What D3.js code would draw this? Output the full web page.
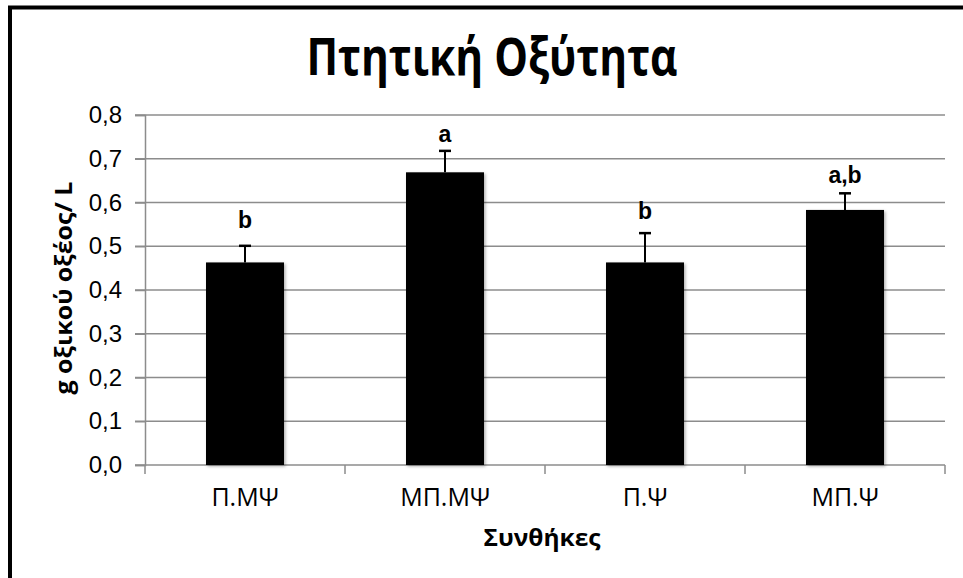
<!DOCTYPE html>
<html>
<head>
<meta charset="utf-8">
<script src="https://cdn.jsdelivr.net/npm/d3@7"></script>
<style>
  body { margin: 0; background: #fff; }
  text { font-family: "Liberation Sans", Arial, sans-serif; }
  .os { font-family: "Open Sans", "Noto Sans", sans-serif; }
</style>
</head>
<body>
<div class="container"></div>
<script>
// Frame
const width = 963;
const height = 578;
const margin = { top: 115, right: 18, bottom: 113, left: 145 };

// Data
const categories = ['Π.ΜΨ', 'ΜΠ.ΜΨ', 'Π.Ψ', 'ΜΠ.Ψ'];
const means = [0.463, 0.669, 0.463, 0.583];
const errors = [0.038, 0.049, 0.067, 0.038];
const letters = ['b', 'a', 'b', 'a,b'];
// height of the letter baseline, in axis units
const letterLevels = [0.542, 0.738, 0.562, 0.645];
const yTicks = [0, 0.1, 0.2, 0.3, 0.4, 0.5, 0.6, 0.7, 0.8];

const title = 'Πτητική Οξύτητα';
const xTitle = 'Συνθήκες';
const yTitle = 'g οξικού οξέος/ L';

const fmt = d => d.toFixed(1).replace('.', ',');

function draw() {
  const svg = d3.select('.container')
    .append('svg')
    .attr('width', width)
    .attr('height', height);

  const defs = svg.append('defs');
  defs.append('filter')
    .attr('id', 'shadow')
    .attr('x', '-20%').attr('y', '-20%')
    .attr('width', '140%').attr('height', '140%')
    .append('feDropShadow')
    .attr('dx', 1.5).attr('dy', 1.5)
    .attr('stdDeviation', 1.5)
    .attr('flood-color', '#000')
    .attr('flood-opacity', 0.3);

  // outer frame (runs off the right and bottom edge like the picture)
  svg.append('rect')
    .attr('x', 10).attr('y', 7.5)
    .attr('width', 1000).attr('height', 700)
    .attr('fill', 'none')
    .attr('stroke', '#000')
    .attr('stroke-width', 4);

  const x = d3.scaleBand()
    .domain(categories)
    .range([margin.left, width - margin.right])
    .paddingInner(0.61)
    .paddingOuter(0.305);

  const y = d3.scaleLinear()
    .domain([0, 0.8])
    .range([height - margin.bottom, margin.top]);

  // gridlines
  svg.append('g')
    .selectAll('line')
    .data(yTicks)
    .enter()
    .append('line')
    .attr('x1', margin.left - 10)
    .attr('x2', width - margin.right)
    .attr('y1', d => y(d))
    .attr('y2', d => y(d))
    .attr('stroke', '#8c8c8c')
    .attr('stroke-width', 1.5);

  // y axis
  const yAxis = svg.append('g')
    .attr('transform', `translate(${margin.left},0)`)
    .call(d3.axisLeft(y).tickValues(yTicks).tickFormat(fmt).tickSize(10).tickPadding(13));
  yAxis.select('.domain').attr('stroke', '#8c8c8c').attr('stroke-width', 1.5);
  yAxis.selectAll('.tick line').attr('stroke', '#8c8c8c').attr('stroke-width', 1.5);
  yAxis.selectAll('.tick text')
    .attr('font-size', 24)
    .attr('fill', '#000')
    .style('font-family', '"Liberation Sans", Arial, sans-serif');

  // x axis: ticks on the category boundaries
  const bounds = d3.range(categories.length + 1);
  const step = x.step();
  svg.append('g')
    .selectAll('line')
    .data(bounds)
    .enter()
    .append('line')
    .attr('x1', i => margin.left + i * step)
    .attr('x2', i => margin.left + i * step)
    .attr('y1', y(0))
    .attr('y2', y(0) + 9)
    .attr('stroke', '#8c8c8c')
    .attr('stroke-width', 1.5);

  svg.append('g')
    .selectAll('text')
    .data(categories)
    .enter()
    .append('text')
    .attr('class', 'os')
    .attr('x', d => x(d) + x.bandwidth() / 2)
    .attr('y', y(0) + 41)
    .attr('text-anchor', 'middle')
    .attr('font-size', 25)
    .text(d => d);

  // bars
  const bars = svg.append('g')
    .selectAll('g')
    .data(categories)
    .enter()
    .append('g');

  bars.append('rect')
    .attr('x', d => x(d))
    .attr('y', (d, i) => y(means[i]))
    .attr('width', x.bandwidth())
    .attr('height', (d, i) => y(0) - y(means[i]))
    .attr('fill', '#000')
    .attr('filter', 'url(#shadow)');

  // error bars (upper half only)
  bars.append('line')
    .attr('x1', d => x(d) + x.bandwidth() / 2)
    .attr('x2', d => x(d) + x.bandwidth() / 2)
    .attr('y1', (d, i) => y(means[i]))
    .attr('y2', (d, i) => y(means[i] + errors[i]))
    .attr('stroke', '#000')
    .attr('stroke-width', 2);

  bars.append('line')
    .attr('x1', d => x(d) + x.bandwidth() / 2 - 6)
    .attr('x2', d => x(d) + x.bandwidth() / 2 + 6)
    .attr('y1', (d, i) => y(means[i] + errors[i]))
    .attr('y2', (d, i) => y(means[i] + errors[i]))
    .attr('stroke', '#000')
    .attr('stroke-width', 2.5);

  bars.append('text')
    .attr('x', d => x(d) + x.bandwidth() / 2)
    .attr('y', (d, i) => y(letterLevels[i]))
    .attr('text-anchor', 'middle')
    .attr('font-size', 23)
    .attr('font-weight', 'bold')
    .text((d, i) => letters[i]);

  // titles (the original font is narrow, so squeeze to its width)
  svg.append('text')
    .attr('class', 'os')
    .attr('x', 492)
    .attr('y', 75)
    .attr('text-anchor', 'middle')
    .attr('font-size', 52)
    .attr('font-weight', 'bold')
    .attr('textLength', 371)
    .attr('lengthAdjust', 'spacingAndGlyphs')
    .text(title);

  svg.append('text')
    .attr('class', 'os')
    .attr('x', 542)
    .attr('y', y(0) + 81)
    .attr('text-anchor', 'middle')
    .attr('font-size', 24)
    .attr('font-weight', 'bold')
    .attr('textLength', 117)
    .attr('lengthAdjust', 'spacingAndGlyphs')
    .text(xTitle);

  svg.append('text')
    .attr('class', 'os')
    .attr('transform', `translate(72, ${(y(0) + y(0.8)) / 2 - 2}) rotate(-90)`)
    .attr('text-anchor', 'middle')
    .attr('font-size', 24)
    .attr('font-weight', 'bold')
    .attr('textLength', 213)
    .attr('lengthAdjust', 'spacingAndGlyphs')
    .text(yTitle);
}

draw();
</script>
</body>
</html>
